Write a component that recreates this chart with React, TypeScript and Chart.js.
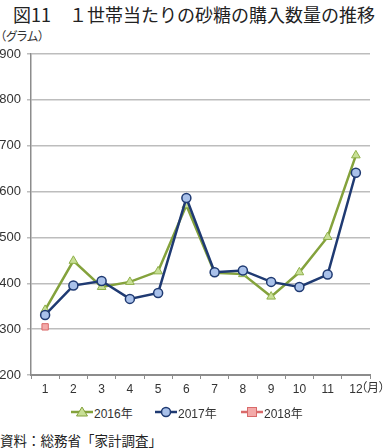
import React, { useEffect, useRef } from "react";
import { Chart, registerables } from "chart.js";

Chart.register(...registerables);

const months = ["1", "2", "3", "4", "5", "6", "7", "8", "9", "10", "11", "12"];
const s2016 = [342, 449, 392, 403, 426, 570, 423, 420, 371, 424, 501, 679];
const s2017 = [331, 395, 405, 366, 379, 586, 424, 428, 403, 392, 419, 641];
const s2018: (number | null)[] = [305, null, null, null, null, null, null, null, null, null, null, null];
const seriesNames = ["2016年", "2017年", "2018年"];
const yTicks = { min: 200, max: 900, step: 100 };

const C16 = { line: "#84a23c", fill: "#c8df96" };
const C17 = { line: "#1f3a72", fill: "#a9c1ea" };
const C18 = { line: "#d96a6a", fill: "#f3aaa9" };

const FONT = "'Liberation Sans', 'Noto Sans CJK JP', sans-serif";
const JFONT = "'Noto Sans CJK JP', sans-serif";

function LegendMark({ kind, c }: { kind: string; c: { line: string; fill: string } }) {
  return (
    <svg width={22} height={14} style={{ display: "block" }}>
      <line x1={0} y1={7} x2={22} y2={7} stroke={c.line} strokeWidth={2.5} />
      {kind === "tri" && <polygon points="11,2 16.5,11 5.5,11" fill={c.fill} stroke={c.line} strokeWidth={1} />}
      {kind === "circ" && <circle cx={11} cy={7} r={4.5} fill={c.fill} stroke={c.line} strokeWidth={1.5} />}
      {kind === "sq" && <rect x={6.5} y={2.5} width={9} height={9} fill={c.fill} stroke={c.line} strokeWidth={1} />}
    </svg>
  );
}

export default function App() {
  const ref = useRef<HTMLCanvasElement | null>(null);
  useEffect(() => {
    if (!ref.current) return;
    const chart = new Chart(ref.current, {
      type: "line",
      data: {
        labels: months,
        datasets: [
          {
            label: seriesNames[0],
            data: s2016,
            borderColor: C16.line,
            backgroundColor: C16.fill,
            borderWidth: 2.5,
            pointStyle: "triangle",
            pointRadius: 5,
            pointBorderWidth: 1,
            pointBorderColor: "#8fb04a",
            pointBackgroundColor: C16.fill,
            tension: 0,
            order: 3,
          },
          {
            label: seriesNames[1],
            data: s2017,
            borderColor: C17.line,
            backgroundColor: C17.fill,
            borderWidth: 2.5,
            pointStyle: "circle",
            pointRadius: 4.5,
            pointBorderWidth: 1.5,
            pointBorderColor: C17.line,
            pointBackgroundColor: C17.fill,
            tension: 0,
            order: 2,
          },
          {
            label: seriesNames[2],
            data: s2018,
            borderColor: C18.line,
            backgroundColor: C18.fill,
            borderWidth: 2.5,
            pointStyle: "rect",
            pointRadius: 4.5,
            pointBorderWidth: 1,
            pointBorderColor: C18.line,
            pointBackgroundColor: C18.fill,
            tension: 0,
            order: 1,
          },
        ],
      },
      options: {
        responsive: false,
        animation: false,
        devicePixelRatio: 1,
        layout: { padding: { left: 0, right: 16, top: 54, bottom: 0 } },
        plugins: {
          legend: { display: false },
          title: { display: false },
          tooltip: { enabled: false },
        },
        scales: {
          x: {
            type: "category",
            offset: true,
            grid: {
              offset: true,
              drawOnChartArea: false,
              drawTicks: true,
              tickLength: 4,
              color: "#8c8c8c",
              lineWidth: 1,
            },
            border: { display: true, color: "#8c8c8c", width: 2 },
            ticks: {
              color: "#333",
              font: { family: FONT, size: 12 },
              padding: 3,
              maxRotation: 0,
              autoSkip: false,
            },
            afterFit: (s: any) => {
              s.height = 25;
            },
          },
          y: {
            min: yTicks.min,
            max: yTicks.max,
            ticks: {
              stepSize: yTicks.step,
              color: "#333",
              font: { family: FONT, size: 13 },
              padding: 6,
            },
            grid: {
              color: "#bdbdbd",
              lineWidth: 1.5,
              drawTicks: true,
              tickLength: 4,
            },
            border: { display: true, color: "#8c8c8c", width: 1.5 },
            afterFit: (s: any) => {
              s.width = 31;
            },
          },
        },
      },
    });
    return () => chart.destroy();
  }, []);

  const legendItems = [
    { kind: "tri", c: C16, name: seriesNames[0], x: 71 },
    { kind: "circ", c: C17, name: seriesNames[1], x: 155 },
    { kind: "sq", c: C18, name: seriesNames[2], x: 241 },
  ];

  return (
    <div style={{ position: "fixed", left: 0, top: 0, width: 386, height: 448, background: "#fff", overflow: "hidden" }}>
      <div
        style={{
          position: "absolute",
          left: 13,
          top: 2,
          fontFamily: JFONT,
          fontSize: 18,
          fontWeight: 400,
          color: "#222",
          whiteSpace: "nowrap",
          lineHeight: "24px",
        }}
      >
        図11　１世帯当たりの砂糖の購入数量の推移
      </div>
      <div
        style={{
          position: "absolute",
          left: 0,
          top: 28,
          fontFamily: JFONT,
          fontSize: 12,
          color: "#333",
          whiteSpace: "nowrap",
          lineHeight: "16px",
          fontFeatureSettings: '"palt"',
        }}
      >
        （グラム）
      </div>
      <canvas ref={ref} width={386} height={400} style={{ position: "absolute", left: 0, top: 0, width: 386, height: 400 }} />
      <div
        style={{
          position: "absolute",
          left: 361,
          top: 379,
          fontFamily: JFONT,
          fontSize: 12,
          color: "#333",
          whiteSpace: "nowrap",
          lineHeight: "16px",
          fontFeatureSettings: '"palt"',
        }}
      >
        （月）
      </div>
      {legendItems.map((it) => (
        <div
          key={it.name}
          style={{
            position: "absolute",
            left: it.x,
            top: 404,
            display: "flex",
            alignItems: "center",
            height: 16,
            fontFamily: FONT,
            fontSize: 12,
            color: "#333",
            whiteSpace: "nowrap",
          }}
        >
          <LegendMark kind={it.kind} c={it.c} />
          <span style={{ marginLeft: 1 }}>{it.name}</span>
        </div>
      ))}
      <div
        style={{
          position: "absolute",
          left: 0,
          top: 431,
          fontFamily: JFONT,
          fontSize: 13.5,
          fontWeight: 400,
          color: "#222",
          whiteSpace: "nowrap",
          lineHeight: "18px",
        }}
      >
        資料：総務省「家計調査」
      </div>
    </div>
  );
}
